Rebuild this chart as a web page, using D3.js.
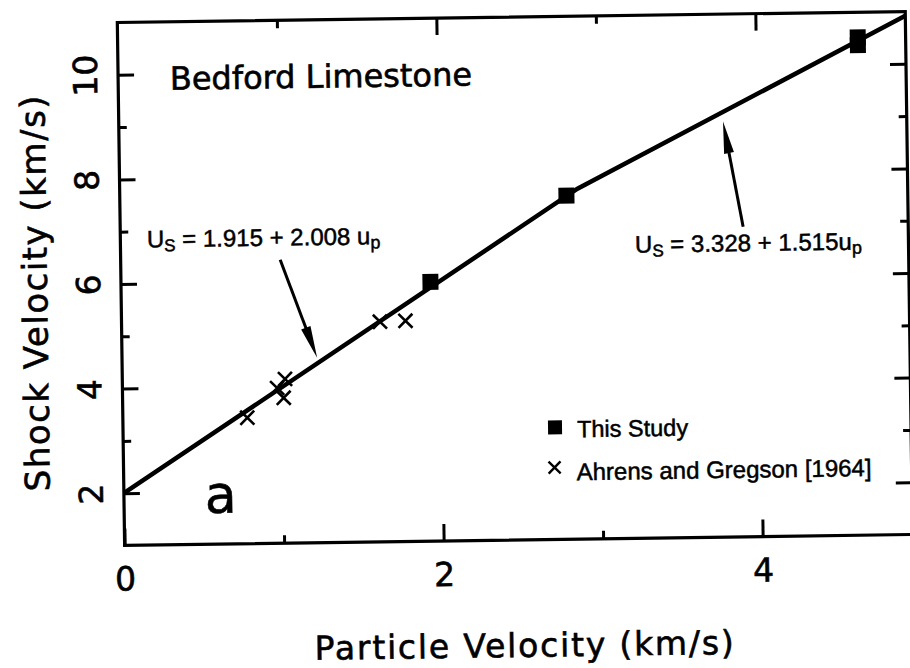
<!DOCTYPE html>
<meta charset='utf-8'>
<style>
  body { margin:0; background:#fff; }
  .frame { fill:none; stroke:#000; stroke-width:3.2; }
  .tick line { stroke:#000; stroke-width:3; }
  .lbl { font-family:'DejaVu Sans', sans-serif; fill:#000; stroke:#000; stroke-width:0.6; }
  .note { font-family:'Liberation Sans', Arial, sans-serif; fill:#000; stroke:#000; stroke-width:0.5; }
</style>
<svg width='910' height='668'></svg>
<script src="https://d3js.org/d3.v7.min.js"></script>
<script>
  // data (particle velocity up, shock velocity Us, km/s)
  var studyU = [1.94, 2.80, 4.64, 4.64];
  var studyV = [5.96, 7.57, 10.37, 10.52];
  var agU = [0.78, 0.97, 1.02, 1.01, 1.62, 1.78];
  var agV = [3.41, 3.97, 4.14, 3.78, 5.21, 5.22];
  // bilinear fit as drawn
  var fitU = [0, 2.87, 4.94];
  var fitV = [2.0, 7.7, 10.92];
  var xMajor = [0, 2, 4], xMinor = [1, 3];
  var yMajor = [2, 4, 6, 8, 10], yMinor = [3, 5, 7, 9];

  var svg = d3.select('svg'),
    plotL = 121, plotR = 909, plotT = 17, plotB = 540;

  svg.append('rect').attr('width', 910).attr('height', 668).attr('fill', '#fff');
  // the scanned page is slightly tilted
  var g = svg.append('g').attr('transform', 'rotate(-0.8,515,283)');

  var x = d3.scaleLinear().domain([0, 4.94]).range([plotL, plotR]);
  var y = d3.scaleLinear().domain([1, 11]).range([plotB, plotT]);

  function axis(a, tx, ty) {
    var s = g.append('g').attr('transform', 'translate(' + tx + ',' + ty + ')').call(a);
    s.select('.domain').remove();
    s.attr('font-family', 'DejaVu Sans').attr('font-size', 33);
    s.selectAll('text').attr('class', 'lbl');
    return s;
  }

  // bottom
  axis(d3.axisBottom(x).tickValues(xMajor).tickSize(-17).tickFormat(d3.format('d')), 0, plotB)
    .selectAll('text').attr('y', 45).attr('dy', null);
  axis(d3.axisBottom(x).tickValues(xMinor).tickSize(-8).tickFormat(''), 0, plotB);
  // top
  axis(d3.axisTop(x).tickValues([2, 4]).tickSize(-17).tickFormat(''), 0, plotT);
  axis(d3.axisTop(x).tickValues(xMinor).tickSize(-8).tickFormat(''), 0, plotT);
  // left
  axis(d3.axisLeft(y).tickValues(yMajor).tickSize(-16).tickFormat(d3.format('d')), plotL, 0)
    .selectAll('text')
    .attr('x', 0).attr('dy', null)
    .attr('text-anchor', 'middle')
    .attr('transform', 'translate(-21,0) rotate(-90)');
  axis(d3.axisLeft(y).tickValues(yMinor).tickSize(-8).tickFormat(''), plotL, 0);
  // right
  axis(d3.axisRight(y).tickValues(yMajor).tickSize(-16).tickFormat(''), plotR, 0);
  axis(d3.axisRight(y).tickValues(yMinor).tickSize(-8).tickFormat(''), plotR, 0);

  g.append('rect').attr('class', 'frame')
    .attr('x', plotL).attr('y', plotT)
    .attr('width', plotR - plotL).attr('height', plotB - plotT);

  g.append('clipPath').attr('id', 'clip').append('rect')
    .attr('x', plotL).attr('y', plotT).attr('width', plotR - plotL).attr('height', plotB - plotT);

  var line = d3.line().x(function(d) { return x(d[0]); }).y(function(d) { return y(d[1]); });
  g.append('path')
    .attr('d', line(d3.zip(fitU, fitV)))
    .attr('clip-path', 'url(#clip)')
    .attr('fill', 'none').attr('stroke', '#000').attr('stroke-width', 4.5);

  // Ahrens and Gregson crosses
  function cross(r) { return 'M' + -r + ',' + -r + 'L' + r + ',' + r + 'M' + -r + ',' + r + 'L' + r + ',' + -r; }
  g.selectAll('.ag').data(d3.zip(agU, agV)).enter().append('path')
    .attr('class', 'ag')
    .attr('transform', function(d) { return 'translate(' + x(d[0]) + ',' + y(d[1]) + ')'; })
    .attr('d', cross(7))
    .attr('stroke', '#000').attr('stroke-width', 2.6).attr('fill', 'none');

  // this study squares
  g.selectAll('.st').data(d3.zip(studyU, studyV)).enter().append('rect')
    .attr('class', 'st')
    .attr('x', function(d) { return x(d[0]) - 8; })
    .attr('y', function(d) { return y(d[1]) - 8; })
    .attr('width', 16).attr('height', 16)
    .attr('fill', '#000');

  // arrows pointing at the two fit segments
  var arrows = [
    {from: [1.0, 6.42], to: [1.223, 4.54]},
    {from: [3.905, 6.93], to: [3.788, 8.945]}
  ];
  arrows.forEach(function(a) {
    var x0 = x(a.from[0]), y0 = y(a.from[1]), x1 = x(a.to[0]), y1 = y(a.to[1]);
    var len = Math.hypot(x1 - x0, y1 - y0), dx = (x1 - x0) / len, dy = (y1 - y0) / len;
    var bx = x1 - 32 * dx, by = y1 - 32 * dy;
    g.append('line').attr('x1', x0).attr('y1', y0).attr('x2', bx + 4 * dx).attr('y2', by + 4 * dy)
      .attr('stroke', '#000').attr('stroke-width', 3);
    g.append('path')
      .attr('d', 'M' + x1 + ',' + y1 + 'L' + (bx - 5 * dy) + ',' + (by + 5 * dx) + 'L' + (bx + 5 * dy) + ',' + (by - 5 * dx) + 'Z')
      .attr('fill', '#000');
  });

  // equations
  function equation(u, v, a, b, sp) {
    var t = g.append('text').attr('class', 'note')
      .attr('x', x(u)).attr('y', y(v)).style('font-size', '24px');
    t.append('tspan').text('U');
    t.append('tspan').attr('dy', 4).style('font-size', '17px').text('S');
    t.append('tspan').attr('dy', -4).text(' = ' + a + ' + ' + b + sp + 'u');
    t.append('tspan').attr('dy', 4).style('font-size', '18px').text('p');
  }
  equation(0.166, 6.69, '1.915', '2.008', ' ');
  equation(3.225, 6.46, '3.328', '1.515', '');

  g.append('text').attr('class', 'lbl')
    .attr('x', x(0.324)).attr('y', y(9.70))
    .style('font-size', '32px').text('Bedford Limestone');

  g.append('text').attr('class', 'lbl')
    .attr('x', x(0.507)).attr('y', y(1.6))
    .style('font-size', '52px').text('a');

  // legend
  var lg = g.append('g').attr('transform', 'translate(553,428)');
  lg.append('rect').attr('x', -7).attr('y', -7).attr('width', 14).attr('height', 14).attr('fill', '#000');
  lg.append('text').attr('class', 'note').attr('x', 22).attr('y', 10).style('font-size', '23.5px').text('This Study');
  lg.append('path').attr('transform', 'translate(-1,40)').attr('d', cross(6))
    .attr('stroke', '#000').attr('stroke-width', 2.4);
  lg.append('text').attr('class', 'note').attr('x', 21).attr('y', 53).style('font-size', '24px').text('Ahrens and Gregson [1964]');

  // axis titles
  g.append('text').attr('class', 'lbl')
    .attr('x', 520).attr('y', 657).attr('text-anchor', 'middle')
    .style('font-size', '33px').style('letter-spacing', '1.8px')
    .text('Particle Velocity (km/s)');
  g.append('text').attr('class', 'lbl')
    .attr('transform', 'translate(47,286) rotate(-90)').attr('text-anchor', 'middle')
    .style('font-size', '34px').style('letter-spacing', '1.5px')
    .text('Shock Velocity (km/s)');
</script>
